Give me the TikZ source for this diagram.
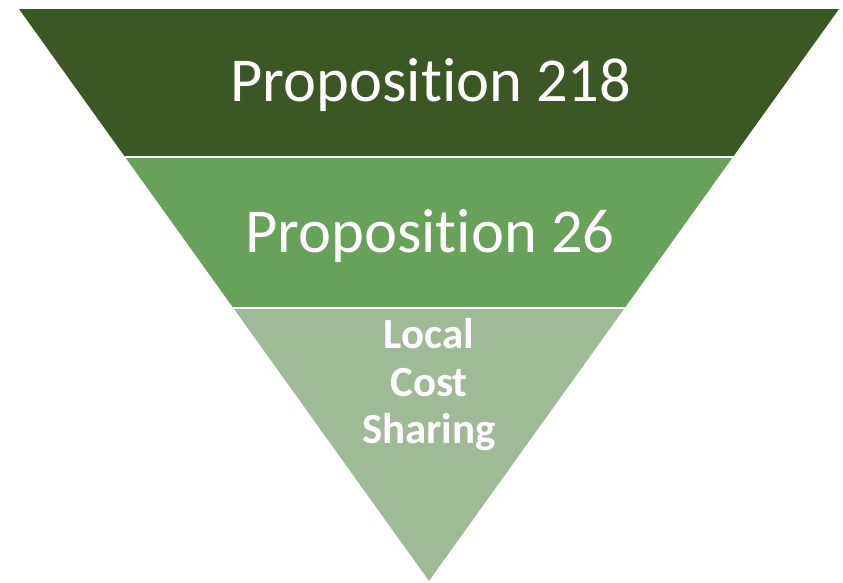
\documentclass[tikz,border=0pt]{standalone}
\usepackage{fontspec}
\setmainfont[Ligatures={NoCommon}]{Carlito}
\usepackage{tikz}
\usetikzlibrary{calc, positioning}

\definecolor{darkgreen}{HTML}{3A5724}
\definecolor{midgreen}{HTML}{68A15A}
\definecolor{lightgreen}{HTML}{9FBA96}

\begin{document}
\begin{tikzpicture}[x=1pt, y=-1pt,
		bigtext/.style = {text=white, inner sep=0pt, anchor=base, font=\fontsize{62.5}{70}\selectfont},
		smalltext/.style = {text=white, inner sep=0pt, anchor=base, font=\fontsize{43}{47}\selectfont\bfseries},
		gap/.style = {white, line width=2.4pt}]
			\useasboundingbox (0,0) rectangle (843,582);
			% corners of the funnel
			\coordinate (topleft) at (19,9);
			\coordinate (topright) at (839,9);
			\coordinate (apex) at (429,581);
			\coordinate (cutleft1) at ($(topleft)!0.2588!(apex)$);
			\coordinate (cutright1) at ($(topright)!0.2588!(apex)$);
			\coordinate (cutleft2) at ($(topleft)!0.5227!(apex)$);
			\coordinate (cutright2) at ($(topright)!0.5227!(apex)$);
			% bands
			\fill [darkgreen] (topleft) -- (topright) -- (cutright1) -- (cutleft1) -- cycle;
			\fill [midgreen] (cutleft1) -- (cutright1) -- (cutright2) -- (cutleft2) -- cycle;
			\fill [lightgreen] (cutleft2) -- (cutright2) -- (apex) -- cycle;
			\draw [gap] (cutleft1) -- (cutright1);
			\draw [gap, line width=2.7pt] (cutleft2) -- (cutright2);
			% labels
			\node [bigtext] (prop218) at (431,101) {Proposition 218};
			\node [bigtext] (prop26) at (430,252) {Proposition 26};
			\node [smalltext] (local) at (429,348) {Local};
			\node [smalltext] (cost) at (429,396) {Cost};
			\node [smalltext] (sharing) at (429,443) {Sharing};
		\end{tikzpicture}
\end{document}
